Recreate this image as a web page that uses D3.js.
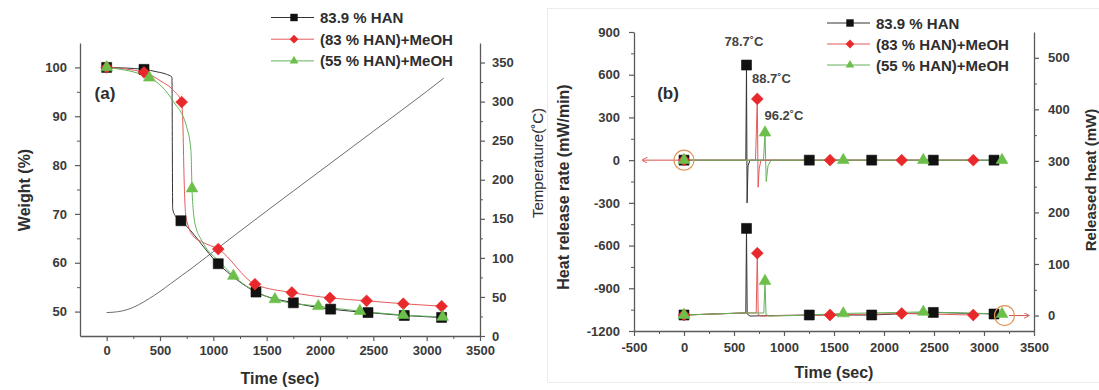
<!DOCTYPE html>
<html><head><meta charset="utf-8">
<script src="https://cdn.jsdelivr.net/npm/d3@7"></script>
<style>
body{margin:0;background:#fff}
svg{display:block}
</style>
</head><body>
<svg id="chart" width="1099" height="390"></svg>
<script>
// ---------- shared ----------
const seriesNames = ["83.9 % HAN", "(83 % HAN)+MeOH", "(55 % HAN)+MeOH"];

// ---------- panel (a): TGA weight loss + furnace temperature ----------
// marker points [time (s), weight (%)]
const hanWeightMarks   = [[0,100],[350,99.6],[696,68.6],[1046,59.8],[1400,54.0],[1750,51.8],[2100,50.5],[2450,49.8],[2790,49.2],[3140,48.8]];
const redWeightMarks   = [[0,100],[350,99.0],[703,92.9],[1046,62.8],[1390,55.6],[1736,53.9],[2093,52.8],[2437,52.2],[2781,51.6],[3140,51.1]];
const greenWeightMarks = [[0,100],[400,97.9],[800,75.2],[1188,57.3],[1577,52.5],[1984,51.1],[2374,50.1],[2781,49.3],[3150,48.9]];
// additional recorded points between markers
const hanWeightCurve   = [[470,99.1],[560,98.6],[612,98.0],[619,71.0],[650,69.4]];
const redWeightCurve   = [[500,97.3],[626,95.3],[715,88.0],[725,78.0],[740,70.0],[765,67.5],[810,65.5],[900,64.2]];
const greenWeightCurve = [[626,93.0],[751,87.7],[790,83.0],[815,70.0],[840,67.0],[880,65.0],[950,62.5],[1046,60.5]];
// furnace temperature
const tempTime  = [0,100,200,300,400,500,600,700,800,1000,1500,2000,2500,3000,3160];
const tempValue = [30,31,34,40,48,57,67,77,87,108,160,211,262,313,330];

// ---------- panel (b): heat release rate (left) and released heat (right) ----------
const hanMarkT   = [0,625,1253,1877,2493,3100];
const hanRate    = [0,668,0,0,0,0];
const hanHeat    = [1,169,1,1,6,3];
const redMarkT   = [0,733,1460,2177,2893];
const redRate    = [0,430,0,0,0];
const redHeat    = [1,121,1,4,1];
const greenMarkT = [0,810,1593,2393,3180];
const greenRate  = [0,193,0,0,0];
const greenHeat  = [1,67,4,7,3];
// spike shapes around each exotherm
const hanRateCurve   = [[600,0],[618,0],[631,-300],[640,-40],[660,0]];
const redRateCurve   = [[600,0],[715,0],[741,-190],[752,-60],[770,0]];
const greenRateCurve = [[600,0],[795,0],[822,-150],[840,-40],[870,0]];
const hanHeatCurve   = [[300,3],[600,5],[618,5],[632,3],[660,-1],[900,0]];
const redHeatCurve   = [[600,5],[722,5],[742,2],[770,-1],[1000,0]];
const greenHeatCurve = [[600,5],[798,5],[820,2],[850,-1],[1100,0]];
// onset temperatures of the three exotherms, placed at [time, rate]
const peakLabels = ["78.7\u02DAC", "88.7\u02DAC", "96.2\u02DAC"];
const peakLabelAnchor = [[600,830],[875,575],[1000,315]];

// ---------- styling ----------
const FONT = "'Liberation Sans', Arial, Helvetica, sans-serif";
const AXIS_COLOR = "#5a5a5a", LABEL_COLOR = "#3a3a3a";
const COLORS = {
  han:   {mark:"#111111", line:"#333333"},
  red:   {mark:"#e8282a", line:"#e45a5a"},
  green: {mark:"#6cbf4a", line:"#62b35a"}
};

const svg = d3.select("#chart");
svg.append("rect").attr("width",1099).attr("height",390).attr("fill","#fff");

function toPairs(ts, vs){ return ts.map((t,i)=>[t, vs[i]]); }
function merged(marks, curve){ return marks.concat(curve).sort((a,b)=>a[0]-b[0]); }

function addAxis(orient, scale, major, minor, transform, pad){
  const gen = orient(scale).tickValues(major).tickSize(5).tickSizeOuter(0)
    .tickPadding(pad).tickFormat(d => String(d));
  const g = svg.append("g").attr("transform", transform).call(gen);
  g.select(".domain").attr("stroke", AXIS_COLOR).attr("stroke-width", 1.3);
  g.selectAll(".tick line").attr("stroke", AXIS_COLOR).attr("stroke-width", 1.2);
  g.selectAll(".tick text").attr("fill", LABEL_COLOR)
    .style("font-family", FONT).style("font-size", "13px").style("font-weight", "bold");
  const gm = svg.append("g").attr("transform", transform)
    .call(orient(scale).tickValues(minor).tickSize(3).tickFormat(""));
  gm.select(".domain").remove();
  gm.selectAll(".tick line").attr("stroke", AXIS_COLOR).attr("stroke-width", 1);
}

function marker(kind, scale){
  const s = scale || 1;
  if(kind === "square")  return d3.symbol(d3.symbolSquare, 100*s)();
  if(kind === "diamond") return d3.symbol(d3.symbolSquare, 70*s)();
  return d3.symbol(d3.symbolTriangle, 60*s)();
}
function drawMarks(g, pts, x, y, kind, color){
  g.selectAll(null).data(pts).join("path")
    .attr("d", marker(kind))
    .attr("transform", d => `translate(${x(d[0])},${y(d[1])})` + (kind==="diamond" ? " rotate(45)" : ""))
    .attr("fill", color).attr("stroke", color).attr("stroke-width", 0.6);
}
function drawLine(g, pts, x, y, color, curve){
  g.append("path").datum(pts)
    .attr("d", d3.line().x(d=>x(d[0])).y(d=>y(d[1])).curve(curve || d3.curveLinear))
    .attr("fill","none").attr("stroke", color).attr("stroke-width", 1);
}
function text(x, y, str, opts){
  const o = Object.assign({size:15, weight:"bold", anchor:"middle", rotate:0, fill:"#2e2e2e"}, opts||{});
  svg.append("text").attr("transform", `translate(${x},${y}) rotate(${o.rotate})`)
    .attr("text-anchor", o.anchor).attr("dominant-baseline","central")
    .attr("fill", o.fill).style("font-family", FONT)
    .style("font-size", o.size+"px").style("font-weight", o.weight).text(str);
}
function legend(x0, y0, dy){
  const kinds = [["square",COLORS.han],["diamond",COLORS.red],["triangle",COLORS.green]];
  const lg = svg.append("g");
  kinds.forEach(([k,c],i)=>{
    const y = y0 + i*dy;
    lg.append("line").attr("x1",x0).attr("x2",x0+43).attr("y1",y).attr("y2",y)
      .attr("stroke",c.line).attr("stroke-width",1);
    lg.append("path").attr("d",marker(k, 0.55))
      .attr("transform",`translate(${x0+23},${y})`+(k==="diamond"?" rotate(45)":""))
      .attr("fill",c.mark);
    lg.append("text").attr("x",x0+49).attr("y",y).attr("dominant-baseline","central")
      .attr("fill","#2e2e2e").style("font-family",FONT).style("font-size","15px")
      .style("font-weight","bold").text(seriesNames[i]);
  });
}

// ================= panel (a) =================
const xA = d3.scaleLinear().domain([-250,3500]).range([80,480]);
const yA = d3.scaleLinear().domain([45,105]).range([336,43]);
const tA = d3.scaleLinear().domain([0,375]).range([336,43]);

addAxis(d3.axisBottom, xA, d3.range(0,3501,500), d3.range(250,3251,500), "translate(0,336)", 5);
addAxis(d3.axisLeft, yA, d3.range(50,101,10), d3.range(55,96,10), "translate(80,0)", 8);
addAxis(d3.axisRight, tA, d3.range(0,351,50), d3.range(25,326,50), "translate(480,0)", 7);

const gA = svg.append("g");
drawLine(gA, toPairs(tempTime, tempValue), xA, tA, "#6e6e6e", d3.curveMonotoneX);
drawLine(gA, merged(hanWeightMarks, hanWeightCurve), xA, yA, COLORS.han.line, d3.curveMonotoneX);
drawLine(gA, merged(redWeightMarks, redWeightCurve), xA, yA, COLORS.red.line, d3.curveMonotoneX);
drawLine(gA, merged(greenWeightMarks, greenWeightCurve), xA, yA, COLORS.green.line, d3.curveMonotoneX);
drawMarks(gA, hanWeightMarks, xA, yA, "square", COLORS.han.mark);
drawMarks(gA, redWeightMarks, xA, yA, "diamond", COLORS.red.mark);
drawMarks(gA, greenWeightMarks, xA, yA, "triangle", COLORS.green.mark);

text(105, 93, "(a)", {size:17});
text(24, 190, "Weight (%)", {rotate:-90, size:16});
text(280, 378, "Time (sec)", {size:16});
text(537, 163, "Temperature(\u02DAC)", {rotate:-90, size:15, weight:"normal"});
legend(271, 17.5, 21.7);

// ================= panel (b) =================
svg.append("rect").attr("x",547.5).attr("y",8.5).attr("width",560).attr("height",374)
  .attr("fill","none").attr("stroke","#ececec").attr("stroke-width",1);

const xB = d3.scaleLinear().domain([-500,3500]).range([634,1034]);
const yB = d3.scaleLinear().domain([-1200,900]).range([331,32]);
const hB = d3.scaleLinear().domain([-30,550]).range([331,32]);

addAxis(d3.axisBottom, xB, d3.range(-500,3501,500), d3.range(-250,3251,500), "translate(0,331)", 7);
addAxis(d3.axisLeft, yB, d3.range(-1200,901,300), d3.range(-1050,751,300), "translate(634,0)", 9);
addAxis(d3.axisRight, hB, d3.range(0,501,100), d3.range(50,451,100), "translate(1034,0)", 9);

const gB = svg.append("g");
const hanRatePts = toPairs(hanMarkT, hanRate), redRatePts = toPairs(redMarkT, redRate), greenRatePts = toPairs(greenMarkT, greenRate);
const hanHeatPts = toPairs(hanMarkT, hanHeat), redHeatPts = toPairs(redMarkT, redHeat), greenHeatPts = toPairs(greenMarkT, greenHeat);

drawLine(gB, merged(hanHeatPts, hanHeatCurve), xB, hB, COLORS.han.line);
drawLine(gB, merged(redHeatPts, redHeatCurve), xB, hB, COLORS.red.line);
drawLine(gB, merged(greenHeatPts, greenHeatCurve), xB, hB, COLORS.green.line);
drawLine(gB, merged(hanRatePts, hanRateCurve), xB, yB, COLORS.han.line);
drawLine(gB, merged(redRatePts, redRateCurve), xB, yB, COLORS.red.line);
drawLine(gB, merged(greenRatePts, greenRateCurve), xB, yB, COLORS.green.line);

// axis pointers: circle on first/last point with arrow toward the owning axis
const ptr = svg.append("g");
ptr.append("defs").append("marker").attr("id","arrowhead").attr("viewBox","0 0 8 8")
  .attr("refX",6).attr("refY",4).attr("markerWidth",6).attr("markerHeight",6).attr("orient","auto")
  .append("path").attr("d","M0,0 L8,4 L0,8").attr("fill","none").attr("stroke","#d9534f").attr("stroke-width",1.2);
ptr.append("line").attr("x1",xB(-30)).attr("x2",xB(-410)).attr("y1",yB(0)).attr("y2",yB(0))
  .attr("stroke","#d9534f").attr("stroke-width",1).attr("marker-end","url(#arrowhead)");
ptr.append("line").attr("x1",xB(3250)).attr("x2",xB(3440)).attr("y1",hB(0)).attr("y2",hB(0))
  .attr("stroke","#d9534f").attr("stroke-width",1).attr("marker-end","url(#arrowhead)");

drawMarks(gB, hanRatePts, xB, yB, "square", COLORS.han.mark);
drawMarks(gB, redRatePts, xB, yB, "diamond", COLORS.red.mark);
drawMarks(gB, greenRatePts, xB, yB, "triangle", COLORS.green.mark);
drawMarks(gB, hanHeatPts, xB, hB, "square", COLORS.han.mark);
drawMarks(gB, redHeatPts, xB, hB, "diamond", COLORS.red.mark);
drawMarks(gB, greenHeatPts, xB, hB, "triangle", COLORS.green.mark);

ptr.append("circle").attr("cx",xB(0)).attr("cy",yB(0)).attr("r",10)
  .attr("fill","none").attr("stroke","#e0955a").attr("stroke-width",1.2);
ptr.append("circle").attr("cx",xB(3205)).attr("cy",hB(0)).attr("r",10)
  .attr("fill","none").attr("stroke","#e0955a").attr("stroke-width",1.2);

peakLabels.forEach((s,i)=>{
  text(xB(peakLabelAnchor[i][0]), yB(peakLabelAnchor[i][1]), s, {size:13, fill:"#444"});
});

text(668, 93, "(b)", {size:17});
text(563, 187, "Heat release rate (mW/min)", {rotate:-90, size:16});
text(1090, 180, "Released heat (mW)", {rotate:-90, size:15});
text(834, 372, "Time (sec)", {size:16});
legend(827, 23, 21);
</script>
</body></html>
